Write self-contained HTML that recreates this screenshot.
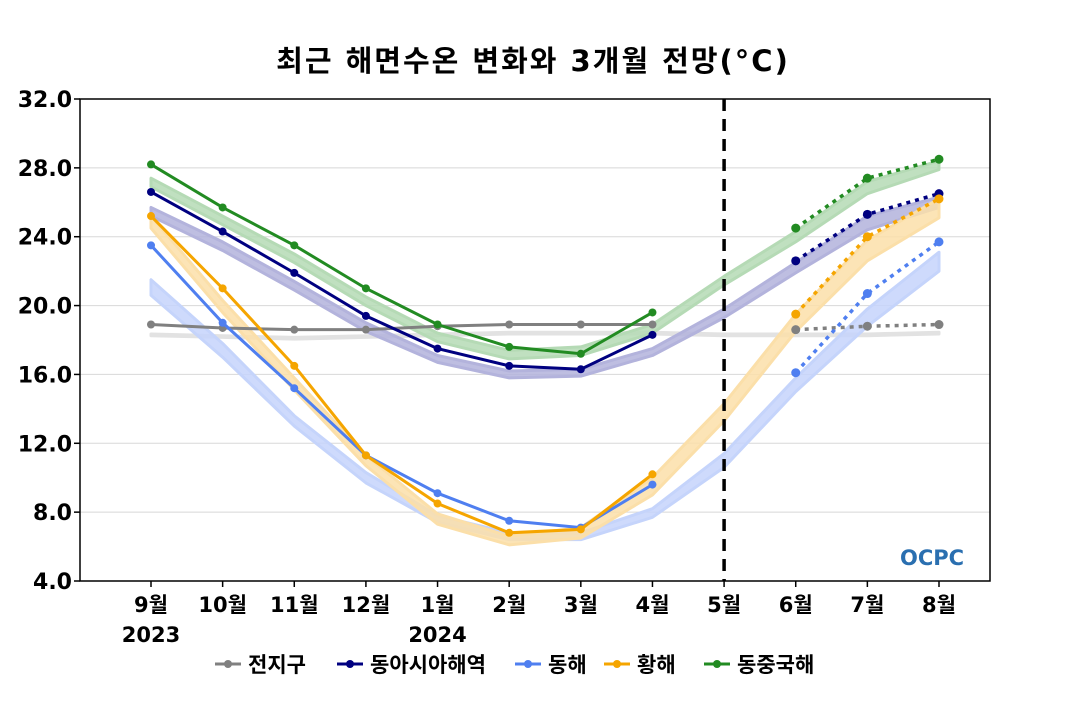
<!DOCTYPE html>
<html><head><meta charset="utf-8"><style>
body{margin:0;background:#fff;}
svg text{font-family:"DejaVu Sans","Noto Sans CJK KR",sans-serif;}
</style></head><body>
<svg id="c" width="1070" height="700" xmlns="http://www.w3.org/2000/svg">
<text x="533" y="71" text-anchor="middle" font-size="29" font-weight="bold" letter-spacing="2">최근 해면수온 변화와 3개월 전망(°C)</text>
<g id="grid"></g><g id="bands"></g><g id="lines"></g><g id="axes"></g>
<text x="900" y="565" font-size="21" font-weight="bold" fill="#2a6fb0">OCPC</text>
<g id="legend"></g>
</svg>
<script>
const months=['9월','10월','11월','12월','1월','2월','3월','4월','5월','6월','7월','8월'];
const years=['2023','','','','2024','','','','','','',''];
const yTicks=[4,8,12,16,20,24,28,32];
const names=['전지구','동아시아해역','동해','황해','동중국해'];
const colors=['#808080','#000080','#4f7ff0','#f5a500','#228b22'];
const bandColors=['#e2e2e2','#b3b3dc','#c5d4fb','#fbdfa9','#b5dab5'];
const obsGlobal=[18.9,18.7,18.6,18.6,18.8,18.9,18.9,18.9];
const obsEastAsia=[26.6,24.3,21.9,19.4,17.5,16.5,16.3,18.3];
const obsEastSea=[23.5,19.0,15.2,11.3,9.1,7.5,7.1,9.6];
const obsYellow=[25.2,21.0,16.5,11.3,8.5,6.8,7.0,10.2];
const obsECS=[28.2,25.7,23.5,21.0,18.9,17.6,17.2,19.6];
const fcGlobal=[18.6,18.8,18.9];
const fcEastAsia=[22.6,25.3,26.5];
const fcEastSea=[16.1,20.7,23.7];
const fcYellow=[19.5,24.0,26.2];
const fcECS=[24.5,27.4,28.5];
const climLowGlobal=[18.25,18.15,18.05,18.15,18.25,18.35,18.35,18.35,18.25,18.25,18.25,18.35];
const climHighGlobal=[18.35,18.25,18.15,18.25,18.35,18.45,18.45,18.45,18.35,18.35,18.35,18.45];
const climLowEastAsia=[25.2,23.2,20.9,18.5,16.7,15.8,15.9,17.1,19.3,21.9,24.4,25.7];
const climHighEastAsia=[25.7,23.7,21.4,19.0,17.1,16.2,16.3,17.5,19.8,22.5,25.2,26.3];
const climLowEastSea=[20.6,17.0,13.0,9.7,7.4,6.4,6.4,7.7,10.6,15.0,18.8,22.0];
const climHighEastSea=[21.5,17.8,13.6,10.3,7.8,6.8,6.8,8.2,11.4,15.8,19.8,23.1];
const climLowYellow=[24.5,19.6,15.1,10.7,7.3,6.1,6.5,9.0,13.3,18.5,22.6,25.1];
const climHighYellow=[25.2,20.3,15.8,11.3,7.9,6.6,7.1,10.0,14.3,19.5,23.8,26.2];
const climLowECS=[26.9,24.7,22.5,20.0,17.9,16.9,17.1,18.4,21.2,23.7,26.5,27.9];
const climHighECS=[27.4,25.2,23.0,20.5,18.4,17.4,17.6,18.9,21.7,24.3,27.2,28.4];
const obs=[obsGlobal,obsEastAsia,obsEastSea,obsYellow,obsECS];
const fc=[fcGlobal,fcEastAsia,fcEastSea,fcYellow,fcECS];
const lows=[climLowGlobal,climLowEastAsia,climLowEastSea,climLowYellow,climLowECS];
const highs=[climHighGlobal,climHighEastAsia,climHighEastSea,climHighYellow,climHighECS];
const keys=['global','east-asia','east-sea','yellow-sea','east-china-sea'];
const NS='http://www.w3.org/2000/svg';
const L=80,R=990,T=99,B=581,yMin=4,yMax=32;
const x=i=>151+i*(939-151)/11;
const y=v=>B-(v-yMin)*(B-T)/(yMax-yMin);
function mk(tag,attrs,parent){const e=document.createElementNS(NS,tag);for(const k in attrs)e.setAttribute(k,attrs[k]);document.getElementById(parent).appendChild(e);return e;}
yTicks.forEach(t=>{
 if(t>yMin&&t<yMax){const g=mk('line',{x1:L,x2:R,y1:y(t),y2:y(t),stroke:'#d8d8d8','stroke-width':1},'grid');
 
 }
 const tx=mk('text',{x:72,y:y(t)+8,'text-anchor':'end','font-size':22,'font-weight':'bold'},'axes');tx.textContent=t.toFixed(1);
 
 
 const tk=mk('line',{x1:L-6,x2:L,y1:y(t),y2:y(t),stroke:'#000','stroke-width':1.5},'axes');
 
 
});
const fr=mk('rect',{x:L,y:T,width:R-L,height:B-T,fill:'none',stroke:'#000','stroke-width':1.5},'axes');


months.forEach((m,i)=>{
 const tk=mk('line',{x1:x(i),x2:x(i),y1:B,y2:B+6,stroke:'#000','stroke-width':1.5},'axes');
 
 
 const t=mk('text',{x:x(i),y:612,'text-anchor':'middle','font-size':21,'font-weight':'bold'},'axes');t.textContent=m;
 
 
 if(years[i]){const yt=mk('text',{x:x(i),y:642,'text-anchor':'middle','font-size':21,'font-weight':'bold'},'axes');yt.textContent=years[i];
 
 }
});
const dl=mk('line',{x1:x(8),x2:x(8),y1:T,y2:B,stroke:'#000','stroke-width':3.5,'stroke-dasharray':'12,8'},'axes');


lows.forEach((lo,s)=>{
 const hi=highs[s];
 let pts=lo.map((v,i)=>x(i)+','+y(v)).concat(hi.map((v,i)=>x(i)+','+y(v)).reverse());
 const p=mk('polygon',{points:pts.join(' '),fill:bandColors[s],stroke:bandColors[s],'stroke-width':3,'stroke-linejoin':'round','fill-opacity':0.85},'bands');
 
 
});
obs.forEach((arr,s)=>{
 const pl=mk('polyline',{points:arr.map((v,i)=>x(i)+','+y(v)).join(' '),fill:'none',stroke:colors[s],'stroke-width':3},'lines');
 
 
 arr.forEach((v,i)=>{const c=mk('circle',{cx:x(i),cy:y(v),r:4,fill:colors[s]},'lines');
 
 });
 const f=fc[s];
 const fl=mk('polyline',{points:f.map((v,i)=>x(i+9)+','+y(v)).join(' '),fill:'none',stroke:colors[s],'stroke-width':3.5,'stroke-dasharray':'4,5'},'lines');
 
 
 f.forEach((v,i)=>{const c=mk('circle',{cx:x(i+9),cy:y(v),r:4.5,fill:colors[s]},'lines');
 
 });
});
const lx=[215,337,515,604,704];
names.forEach((n,s)=>{
 const g=mk('g',{},'legend');
 
 
 const ln=document.createElementNS(NS,'line');ln.setAttribute('x1',lx[s]);ln.setAttribute('x2',lx[s]+26);ln.setAttribute('y1',664);ln.setAttribute('y2',664);ln.setAttribute('stroke',colors[s]);ln.setAttribute('stroke-width',3);g.appendChild(ln);
 const c=document.createElementNS(NS,'circle');c.setAttribute('cx',lx[s]+13);c.setAttribute('cy',664);c.setAttribute('r',4);c.setAttribute('fill',colors[s]);g.appendChild(c);
 const t=document.createElementNS(NS,'text');t.setAttribute('x',lx[s]+33);t.setAttribute('y',672);t.setAttribute('font-size',21);t.setAttribute('font-weight','bold');t.textContent=n;g.appendChild(t);
});
</script>
</body></html>
